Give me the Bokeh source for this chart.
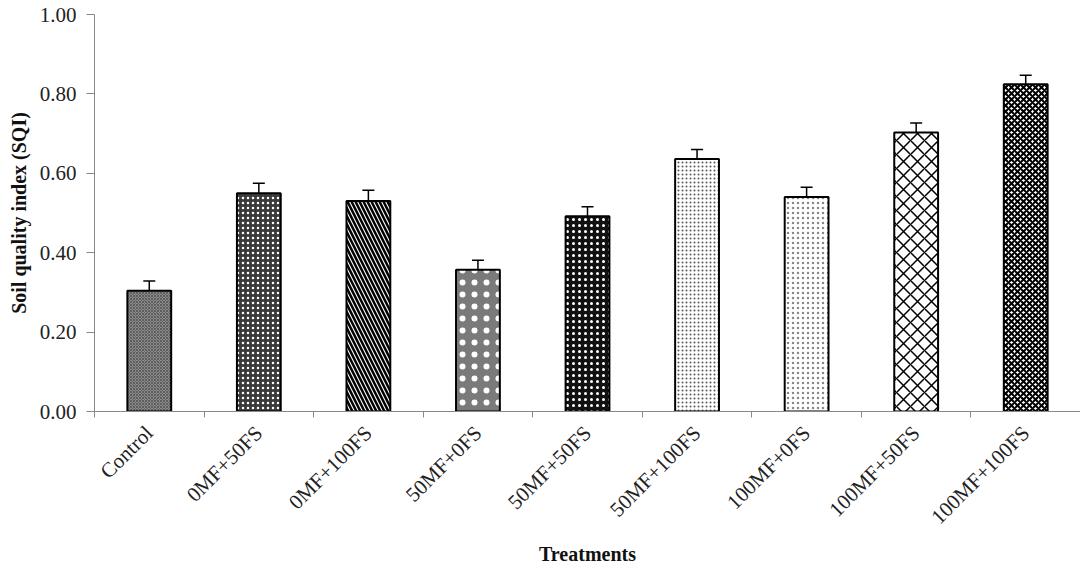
import math
from bokeh.plotting import figure
from bokeh.models import (Range1d, FixedTicker, CustomJSTickFormatter, Title,
                          NumeralTickFormatter, ColumnDataSource, Whisker, TeeHead)
from bokeh.embed import file_html
from bokeh.resources import INLINE

treatments = ["Control", "0MF+50FS", "0MF+100FS", "50MF+0FS", "50MF+50FS",
              "50MF+100FS", "100MF+0FS", "100MF+50FS", "100MF+100FS"]
sqi = [0.304, 0.550, 0.530, 0.357, 0.492, 0.636, 0.540, 0.703, 0.824]
sqi_err = [0.025, 0.025, 0.027, 0.024, 0.024, 0.024, 0.025, 0.024, 0.023]
y_ticks = [0.0, 0.2, 0.4, 0.6, 0.8, 1.0]

fill_colors = ["#8a8a8a", "#3a3a3a", "#ffffff", "#7a7a7a", "#111111",
               "#ffffff", "#ffffff", "#ffffff", "#ffffff"]
hatch_patterns = ["diagonal_cross", "dot", "left_diagonal_line", "dot", "dot",
                  "dot", "dot", "diagonal_cross", "diagonal_cross"]
hatch_colors = ["#5e5e5e", "#ffffff", "#000000", "#ffffff", "#ffffff",
                "#555555", "#888888", "#000000", "#000000"]
hatch_scales = [3, 5, 8, 12, 6, 4, 5, 14, 6]
hatch_weights = [1, 1.5, 2.5, 2, 1.5, 1, 1, 1.5, 2]

SERIF = "Liberation Serif"
n = len(treatments)
centers = [i + 0.5 for i in range(n)]
boundaries = list(range(n + 1))

src = ColumnDataSource(dict(
    x=centers, top=sqi,
    upper=[v + e for v, e in zip(sqi, sqi_err)],
    lower=[v - e for v, e in zip(sqi, sqi_err)],
    fc=fill_colors, hp=hatch_patterns, hc=hatch_colors, hs=hatch_scales, hw=hatch_weights,
))

p = figure(width=1080, height=564, output_backend="svg", toolbar_location=None,
           x_range=Range1d(0, n), y_range=Range1d(0, 1.0),
           min_border_left=94, min_border_right=0, min_border_top=14, min_border_bottom=152)
p.outline_line_color = None
p.grid.visible = False
p.background_fill_color = "white"

p.vbar(x="x", top="top", width=0.40, source=src, fill_color="fc",
       hatch_pattern="hp", hatch_color="hc", hatch_scale="hs", hatch_weight="hw",
       line_color="black", line_width=2)

w = Whisker(base="x", upper="upper", lower="lower", source=src,
            line_color="black", line_width=1.5,
            upper_head=TeeHead(size=12, line_color="black", line_width=1.5),
            lower_head=TeeHead(size=12, line_color="black", line_width=1.5))
p.add_layout(w)

# y axis
ya = p.yaxis[0]
ya.ticker = FixedTicker(ticks=y_ticks)
ya.formatter = NumeralTickFormatter(format="0.00")
ya.axis_line_color = "#888888"
ya.major_tick_line_color = "#888888"
ya.major_tick_out = 8
ya.major_tick_in = 0
ya.minor_tick_line_color = None
ya.major_label_text_font = SERIF
ya.major_label_text_font_size = "21px"
ya.major_label_text_color = "#222222"
ya.major_label_standoff = 10
ya.axis_label = "Soil quality index (SQI)"
ya.axis_label_text_font = SERIF
ya.axis_label_text_font_style = "bold"
ya.axis_label_text_font_size = "20px"
ya.axis_label_text_color = "#111111"
ya.axis_label_standoff = 7

# x axis: labels at bar centres, tick marks at category boundaries (minor ticks)
xa = p.xaxis[0]
xa.ticker = FixedTicker(ticks=centers, minor_ticks=boundaries)
xa.formatter = CustomJSTickFormatter(args=dict(names=treatments),
                                     code="return names[Math.floor(tick)] || '';")
xa.axis_line_color = "#888888"
xa.major_tick_line_color = None
xa.major_tick_out = 6
xa.major_tick_in = 0
xa.minor_tick_line_color = "#888888"
xa.minor_tick_out = 6
xa.minor_tick_in = 0
xa.major_label_orientation = math.pi / 4
xa.major_label_text_font = SERIF
xa.major_label_text_font_size = "21px"
xa.major_label_text_color = "#222222"
xa.major_label_standoff = 12

# x axis title below the rotated labels
p.add_layout(Title(text="Treatments", align="center", text_font=SERIF,
                   text_font_style="bold", text_font_size="20px", text_color="#111111",
                   standoff=0, offset=0), "below")

open("out.html", "w").write(file_html(p, INLINE))
